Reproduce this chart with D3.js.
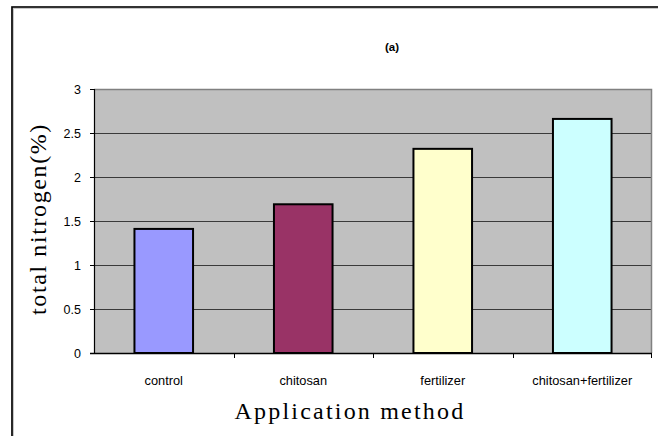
<!DOCTYPE html>
<html>
<head>
<meta charset="utf-8">
<script src="https://cdn.jsdelivr.net/npm/d3@7"></script>
<style>
  html, body { margin: 0; padding: 0; background: #fff; }
  svg { display: block; }
</style>
</head>
<body>
<svg id="chart" width="658" height="436"></svg>
<script>
const categories = ["control", "chitosan", "fertilizer", "chitosan+fertilizer"];
const values = [1.41, 1.69, 2.32, 2.66];
const barColors = ["#9999ff", "#993366", "#ffffcc", "#ccffff"];
const yTicks = [0, 0.5, 1, 1.5, 2, 2.5, 3];
const yTickLabels = ["0", "0.5", "1", "1.5", "2", "2.5", "3"];
const title = "(a)";
const xTitle = "Application method";
const yTitle = "total nitrogen(%)";

const svg = d3.select("#chart");
const W = 658, H = 436;
const m = { left: 94, right: 6, top: 89, bottom: 83 };
const pw = W - m.left - m.right, ph = H - m.top - m.bottom;

// outer chart border (shadowed)
svg.append("path").attr("d", `M12.5,${H} V7.5 H${W}`).attr("fill", "none").attr("stroke", "#c8c8c8").attr("stroke-width", 3);
svg.append("path").attr("d", `M12,${H} V7 H${W}`).attr("fill", "none").attr("stroke", "#000").attr("stroke-width", 1.6);

const x = d3.scaleBand().domain(categories).range([0, pw]).paddingInner(0.58).paddingOuter(0.29);
const xb = d3.scaleBand().domain(categories).range([0, pw]);
const y = d3.scaleLinear().domain([0, 3]).range([ph, 0]);

const g = svg.append("g").attr("transform", `translate(${m.left},${m.top})`);

g.append("rect").attr("width", pw).attr("height", ph).attr("fill", "#c0c0c0");

// gridlines
g.append("g").selectAll("line").data(yTicks.filter(d => d > 0 && d < 3)).join("line")
  .attr("x1", 0).attr("x2", pw).attr("y1", d => Math.round(y(d)) + 0.5).attr("y2", d => Math.round(y(d)) + 0.5)
  .attr("stroke", "#3a3a3a").attr("stroke-width", 1);

// plot border top/right
g.append("path").attr("d", `M0,0.5 H${pw - 0.5} V${ph}`).attr("fill", "none").attr("stroke", "#808080").attr("stroke-width", 1.5);

// bars
g.selectAll("rect.bar").data(categories).join("rect").attr("class", "bar")
  .attr("x", d => x(d)).attr("width", x.bandwidth())
  .attr("y", (d, i) => y(values[i])).attr("height", (d, i) => ph - y(values[i]))
  .attr("fill", (d, i) => barColors[i]).attr("stroke", "#000").attr("stroke-width", 2);

// y axis
const yAxis = d3.axisLeft(y).tickValues(yTicks).tickFormat((d, i) => yTickLabels[i]).tickSize(4).tickPadding(9);
const ya = g.append("g").call(yAxis);
ya.select(".domain").attr("stroke", "#000").attr("stroke-width", 1.2);
ya.selectAll(".tick line").attr("stroke", "#000");
ya.selectAll("text").attr("font-family", "Liberation Sans, Arial, sans-serif").attr("font-size", 12.5).attr("fill", "#000");

// x axis with ticks at band boundaries
const xa = g.append("g").attr("transform", `translate(0,${ph})`);
xa.append("line").attr("x1", -4).attr("x2", pw).attr("y1", 0.5).attr("y2", 0.5).attr("stroke", "#000").attr("stroke-width", 1.5);
xa.selectAll("line.tk").data(categories.slice(1).concat(["end"])).join("line").attr("class", "tk")
  .attr("x1", d => d === "end" ? pw - 0.5 : Math.round(xb(d)) + 0.5)
  .attr("x2", d => d === "end" ? pw - 0.5 : Math.round(xb(d)) + 0.5)
  .attr("y1", 0).attr("y2", 5).attr("stroke", "#000");
xa.selectAll("text").data(categories).join("text")
  .attr("x", d => xb(d) + xb.bandwidth() / 2).attr("y", 32)
  .attr("text-anchor", "middle").attr("font-family", "Liberation Sans, Arial, sans-serif")
  .attr("font-size", 12.8).text(d => d);

// title
svg.append("text").attr("x", 392).attr("y", 51).attr("text-anchor", "middle")
  .attr("font-family", "Liberation Sans, Arial, sans-serif").attr("font-weight", "bold").attr("font-size", 11.5).text(title);

// axis titles
svg.append("text").attr("x", 350).attr("y", 419).attr("text-anchor", "middle")
  .attr("font-family", "Liberation Serif, Times New Roman, serif").attr("font-size", 24)
  .attr("letter-spacing", 2.2).text(xTitle);
svg.append("text").attr("transform", `translate(46,${m.top + ph / 2 - 2}) rotate(-90)`).attr("text-anchor", "middle")
  .attr("font-family", "Liberation Serif, Times New Roman, serif").attr("font-size", 24)
  .attr("letter-spacing", 1.6).text(yTitle);
</script>
</body>
</html>
